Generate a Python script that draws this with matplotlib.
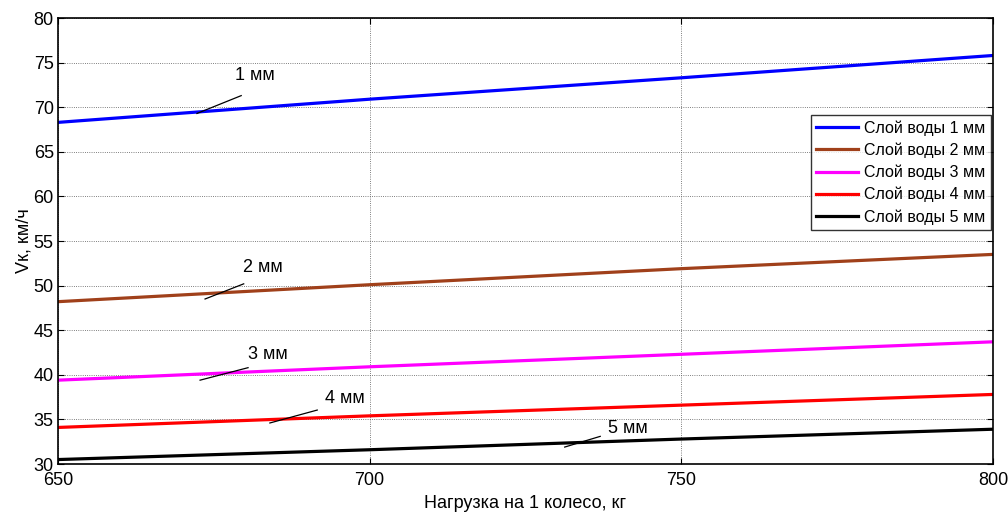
import numpy as np
import matplotlib.pyplot as plt

plt.rcParams['font.family'] = ['Liberation Sans', 'DejaVu Sans']

load = [650, 700, 750, 800]
v_1mm = [68.3, 70.9, 73.3, 75.8]
v_2mm = [48.2, 50.1, 51.9, 53.5]
v_3mm = [39.4, 40.9, 42.3, 43.7]
v_4mm = [34.1, 35.4, 36.6, 37.8]
v_5mm = [30.5, 31.6, 32.8, 33.9]

series = [
    (v_1mm, "#0000ff", "Слой воды 1 мм"),
    (v_2mm, "#a0401a", "Слой воды 2 мм"),
    (v_3mm, "#ff00ff", "Слой воды 3 мм"),
    (v_4mm, "#ff0000", "Слой воды 4 мм"),
    (v_5mm, "#000000", "Слой воды 5 мм"),
]

# text position, arrow start, arrow end (data coords)
labels = [
    ("1 мм", (681.6, 73.6), (679.4, 71.3), (672.3, 69.3)),
    ("2 мм", (682.9, 52.0), (679.8, 50.2), (673.6, 48.5)),
    ("3 мм", (683.7, 42.3), (680.5, 40.8), (672.8, 39.4)),
    ("4 мм", (696.0, 37.3), (691.6, 36.05), (684.0, 34.6)),
    ("5 мм", (741.4, 34.0), (737.0, 33.1), (731.3, 31.9)),
]

fig = plt.figure(figsize=(10.08, 5.15), dpi=100)
ax = fig.add_axes([0.0575, 0.099, 0.9275, 0.866])

for vals, color, name in series:
    ax.plot(load, vals, color=color, lw=2.3, label=name)

for text, tpos, p0, p1 in labels:
    ax.text(tpos[0], tpos[1], text, fontsize=13, ha="center", va="center")
    ax.plot([p0[0], p1[0]], [p0[1], p1[1]], color="black", lw=0.9)

ax.set_xlim(650, 800)
ax.set_ylim(30, 80)
ax.set_xticks([650, 700, 750, 800])
ax.set_yticks(np.arange(30, 81, 5))
ax.grid(True, color="#555555", linestyle=":", linewidth=0.6)
ax.tick_params(direction="in", top=True, right=True, labelsize=13, length=4, pad=3)
ax.tick_params(axis="x", pad=6)
for s in ax.spines.values():
    s.set_linewidth(1.2)

ax.set_xlabel("Нагрузка на 1 колесо, кг", fontsize=13, labelpad=4)
ax.set_ylabel("Vк, км/ч", fontsize=13, labelpad=1)

leg = ax.legend(loc="upper right", bbox_to_anchor=(1.0, 0.787), fontsize=11.5,
                frameon=True, fancybox=False, edgecolor="black",
                handlelength=2.6, borderpad=0.35, labelspacing=0.42,
                handletextpad=0.4, borderaxespad=0.1)
leg.get_frame().set_linewidth(1.0)

fig.savefig("out.png", dpi=100)
